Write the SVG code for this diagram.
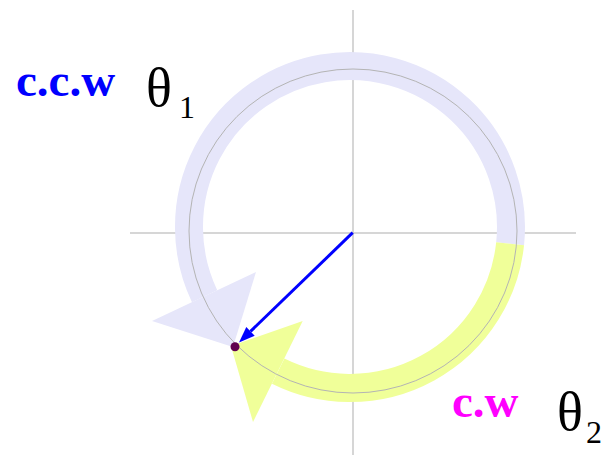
<svg xmlns="http://www.w3.org/2000/svg" width="606" height="455" viewBox="0 0 606 455">
  <style>
    .axis { stroke: #c8c8c8; stroke-width: 1.5; fill: none; }
    .band { fill: none; stroke-width: 28; stroke-linecap: butt; }
    .lbl { font-family: "Liberation Serif", "Times New Roman", serif; font-weight: bold; font-size: 47px; }
    .th { font-family: "Liberation Serif", "Times New Roman", serif; font-size: 54px; fill: #000; }
    .sub { font-family: "Liberation Serif", "Times New Roman", serif; font-size: 32px; fill: #000; }
  </style>
  <rect width="606" height="455" fill="#ffffff"/>
  <g id="axes">
    <line class="axis" x1="353" y1="10" x2="353" y2="455"/>
    <line class="axis" x1="130" y1="233" x2="576" y2="233"/>
  </g>
  <g id="ccw-arrow">
    <path class="band" stroke="#e6e6fa" d="M510.1,243.8 A161,161 0 1 0 204.6,296.2"/>
    <polygon fill="#e6e6fa" points="152,321 256,272 233,347"/>
  </g>
  <g id="cw-arrow">
    <path class="band" stroke="#f0ff99" d="M510.1,243.8 A161,161 0 0 1 278.2,371.1"/>
    <polygon fill="#f0ff99" points="302.7,321 253,422 231,346"/>
  </g>
  <g id="circle">
    <ellipse cx="353" cy="231" rx="164" ry="162" fill="none" stroke="#b4b4b4" stroke-width="1"/>
  </g>
  <g id="connectors">
    <line x1="352.7" y1="232.7" x2="250.5" y2="331.4" stroke="#0000ff" stroke-width="3"/>
    <polygon fill="#0000ff" points="239,342.5 254.7,335.7 246.3,327.1"/>
  </g>
  <g id="point">
    <circle cx="235" cy="346.7" r="4.5" fill="#600050"/>
  </g>
  <g id="labels">
    <text class="lbl" x="16" y="96" fill="#0000ff">c.c.w</text>
    <text class="th" x="146" y="106">θ</text>
    <text class="sub" x="179" y="118">1</text>
    <text class="lbl" x="452" y="417" fill="#ff00ff">c.w</text>
    <text class="th" x="557" y="430">θ</text>
    <text class="sub" x="586" y="443">2</text>
  </g>
</svg>
